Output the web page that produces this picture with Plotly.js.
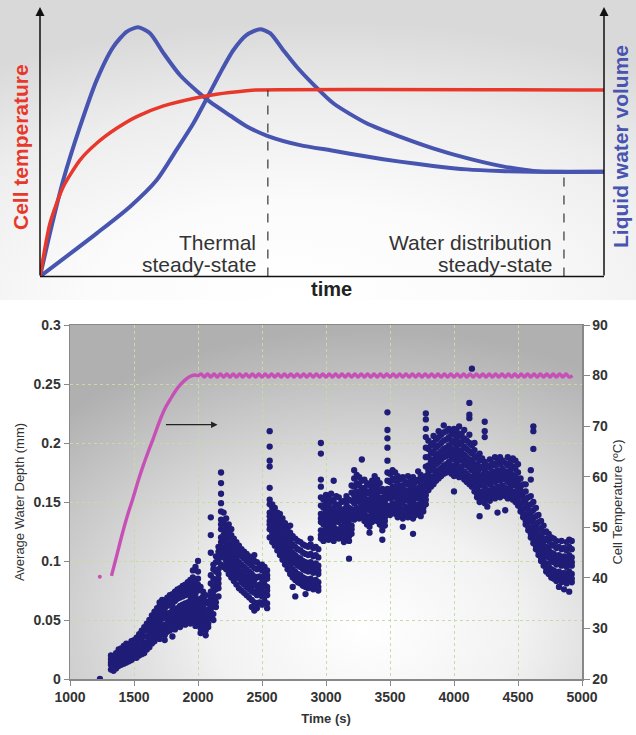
<!DOCTYPE html>
<html><head><meta charset="utf-8">
<script src="https://cdn.plot.ly/plotly-3.0.1.min.js"></script>
<style>html,body{margin:0;padding:0;background:#fff}#chart{width:636px;height:735px}</style>
</head><body><div id="chart"></div>
<script>
// ---------- Top schematic (arbitrary units 0-100) ----------
const schemTempU = [0,1.77,4.13,7.09,10.05,13.6,17.15,21.9,27.8,31.3,36.6,38.4,100];
const schemTempV = [0,19.96,33.7,43.7,50.0,55.6,60.0,64.0,67.1,68.4,69.7,70.0,70.0];
const schemWater1U = [0,1.77,4.13,7.09,10.05,13.0,15.4,17.4,19.5,21.9,24.8,27.8,30.1,33.7,36.6,40.4,46.1,52.0,57.9,63.8,69.7,75.7,81.6,87.4,100];
const schemWater1V = [0,16.3,36.2,56.2,73.7,86.2,91.9,93.5,91.3,83.8,75.6,69.6,65.6,60.4,56.4,52.7,49.3,47.2,45.0,43.1,41.5,40.2,39.6,39.3,39.3];
const schemWater2U = [0,10.05,15.96,20.7,24.2,27.2,29.6,31.9,34.3,36.6,39.0,40.8,43.1,45.5,48.5,52.0,57.9,63.8,69.7,75.7,81.6,87.5,90.4,100];
const schemWater2V = [0,16.2,26.2,36.2,47.5,57.5,66.9,76.2,85.0,90.6,92.8,91.3,85.0,78.7,72.0,65.0,57.5,52.5,48.1,44.4,41.5,39.6,39.3,39.3];
const steadyTimesU = [40.4, 92.9];
const steadyLevelsV = [70.0, 39.3];
const steadyLabelLine1 = ["Thermal", "Water distribution"];
const steadyLabelLine2 = ["steady-state", "steady-state"];

// ---------- Bottom chart ----------
const xTicks = [1000,1500,2000,2500,3000,3500,4000,4500,5000];
const depthTicks = [0,0.05,0.1,0.15,0.2,0.25,0.3];
const tempTicks = [20,30,40,50,60,70,80,90];

// water depth samples: [time (s), depths in micrometres ...]
const depthRows = [
[1234,0],
[1320,8,12,17,20,14],[1340,10,15,11,19,7],[1360,13,9,18,22,16],[1380,11,20,14,25,17],[1400,15,12,21,26,19],
[1420,13,18,24,16,28],[1440,17,22,14,27,30,20],[1460,15,25,19,29,23],[1480,19,16,24,32,28,21],[1500,18,23,27,33,21,30],
[1520,21,26,18,31,35,24],[1540,20,29,24,34,38,27],[1560,23,27,32,21,37,41],[1580,22,30,26,36,41,44],[1600,25,31,36,28,42,47],
[1620,27,34,39,30,45,50,43],[1640,30,36,42,33,48,54,51],[1660,32,39,45,36,51,57,48],[1680,35,41,47,38,54,60,52],[1700,34,43,49,40,56,62,65,52],
[1720,38,45,51,42,58,63,67,55],[1740,37,46,53,43,60,66,33,57],[1760,40,47,55,44,62,69,51,65],[1780,41,49,56,46,63,71,53,67],[1800,43,50,58,47,64,72,36,61],
[1820,42,51,59,48,66,74,55,69],[1840,45,53,60,50,68,76,57,72],[1860,44,52,62,49,69,77,58,73],[1880,47,55,63,51,70,79,60,75],[1900,46,54,64,50,71,80,59,76],
[1920,48,57,65,53,73,82,61,78],[1940,47,56,66,52,74,84,62,79,70],[1960,49,58,67,54,75,86,63,81,92],[1980,45,55,64,50,72,83,60,78,95,68],[2000,47,57,66,52,75,85,61,80,91,100],
[2020,43,51,60,47,68,78,56,64,39],[2040,45,53,62,49,70,74,57],[2060,41,49,58,45,66,71,54,37],[2080,44,51,59,47,64,55],
[2100,52,59,67,74,81,88,63,107,122,137,70],[2120,55,62,70,78,85,93,97,66,50,74],[2140,61,69,76,84,91,99,104,65,80],[2160,70,77,85,93,100,108,112,81,89],
[2180,97,104,112,120,127,135,142,149,157,166,175,108,116,131],[2200,95,103,111,118,126,134,141,107,122],[2220,93,100,108,115,123,130,136,97,112],
[2240,89,97,104,112,119,126,131,100,108],[2260,86,93,101,108,115,122,127,97],[2280,83,90,98,105,112,119,94,101],[2300,80,87,95,102,109,116,91],
[2320,77,85,92,99,106,113,88,96],[2340,75,82,90,97,104,110,86],[2360,73,80,88,95,102,108,84,91],[2380,71,78,86,93,100,106,82],
[2400,69,76,84,91,98,104,80,87],[2420,67,74,82,89,96,102,61,78],[2440,65,73,80,87,94,100,105,58,84],[2460,64,71,79,86,93,99,60,75],
[2480,65,72,80,87,94,97,77],[2500,63,70,78,85,92,97,74,81],[2520,66,73,80,88,95,70,84],[2540,64,71,78,85,92,60,75,88],
[2560,120,127,134,141,148,152,162,180,185,197,210,131,138],[2580,116,124,131,138,145,148,120,127],[2600,113,120,127,134,141,145,117,130],
[2620,109,116,123,130,137,141,113,126],[2640,105,112,119,126,133,140,108,122],[2660,101,108,115,122,129,136,104,118],[2680,97,104,111,118,125,132,100,114],
[2700,93,100,107,114,121,128,96,110],[2720,89,96,103,110,117,124,130,92,106],[2740,86,93,100,107,114,121,78,89,103],[2760,84,91,98,105,112,119,70,87,101],
[2780,82,89,96,103,110,117,85,99],[2800,81,88,95,102,109,116,84,98],[2820,79,86,93,100,107,114,82,96],[2840,78,85,92,99,106,113,72,81,95],
[2860,77,84,91,98,105,112,80,94],[2880,78,85,92,99,106,114,119,81,95],[2900,76,83,90,97,104,111,79,93],[2920,77,84,91,98,105,112,80,94],
[2940,75,82,89,96,103,110,78,92],[2960,119,126,133,140,147,154,163,169,191,200,122,136],[2980,117,124,131,138,145,152,120,134],
[3000,121,128,135,142,149,156,124,139],[3020,118,125,132,139,146,153,121,136],[3040,122,129,136,143,150,157,126,140],[3060,117,124,131,138,145,152,168,120,134],
[3080,120,127,134,141,148,155,123,137],[3100,119,126,133,140,147,154,122,143],[3120,122,129,136,143,150,125,139],[3140,116,123,130,137,144,151,119,134],
[3160,120,127,134,141,148,155,124,131],[3180,117,124,131,138,145,152,102,121,135],[3200,123,130,137,144,151,158,164,127,141],[3220,135,142,149,156,163,170,177,138,152],
[3240,138,145,152,159,166,173,141,156],[3260,136,143,150,157,164,171,140,154],[3280,140,147,154,161,168,186,143,157],[3300,134,141,148,155,162,169,137,151],
[3320,131,138,145,152,159,166,135,149],[3340,129,136,143,150,157,164,124,133,147],[3360,133,140,147,154,161,168,136,150],[3380,137,144,151,158,165,172,140,154],
[3400,134,141,148,155,162,169,138,152],[3420,131,138,145,152,159,166,134,148],[3440,126,133,140,147,154,161,118,129,143],[3460,130,137,144,151,158,134,148],
[3480,140,147,154,161,168,175,185,196,204,211,226,144,158],[3500,139,146,153,160,167,174,142,156],[3520,142,149,156,163,170,177,145,159],
[3540,140,147,154,161,168,175,143,157],[3560,137,144,151,158,165,172,141,155],[3580,141,148,155,162,169,144,158],[3600,136,143,150,157,164,171,129,139,153],
[3620,139,146,153,160,167,142,156],[3640,137,144,151,158,165,172,140,154],[3660,140,147,154,161,168,143,157],[3680,136,143,150,157,164,171,123,139,153],
[3700,139,146,153,160,167,142,156],[3720,141,148,155,162,169,176,144,158],[3740,138,145,152,159,166,173,141,155],[3760,142,149,156,163,170,145,159],
[3780,148,156,164,172,180,188,196,205,212,220,225,152,168],[3800,160,167,174,181,188,195,202,163,177],[3820,163,170,177,184,191,198,166,180],
[3840,165,172,179,186,193,200,206,168,182],[3860,168,175,182,189,196,203,171,185],[3880,170,177,184,191,198,205,210,173,187],[3900,172,179,186,193,200,207,175,189],
[3920,174,181,188,195,202,209,215,177,191],[3940,175,182,189,196,203,210,178,192],[3960,177,184,191,198,205,212,180,194],[3980,174,181,188,195,202,209,177,191],
[4000,172,179,186,193,200,207,212,159,175,189],[4020,175,182,189,196,203,210,178,192],[4040,171,178,185,192,199,206,214,174,188],[4060,173,180,187,194,201,208,176,190],
[4080,169,176,183,190,197,204,211,172,186],[4100,167,174,181,188,195,202,170,184],[4120,165,172,179,186,193,200,207,221,224,234,168,182],
[4140,163,170,177,184,191,198,263,166,180],[4160,159,166,173,180,187,194,200,162,176],[4180,154,161,168,175,182,189,157,171],
[4200,150,157,164,171,178,185,191,138,153,167],[4220,152,159,166,173,180,187,155,169],[4240,149,156,163,170,177,184,205,210,218,152,166],
[4260,153,160,167,174,181,146,156,170],[4280,151,158,165,172,179,186,154,168],[4300,155,162,169,176,183,158,172],[4320,153,160,167,174,181,188,156,170],
[4340,156,163,170,177,184,141,159,173],[4360,154,161,168,175,182,188,157,171],[4380,157,164,171,178,185,160,174],[4400,155,162,169,176,183,143,158,172],
[4420,153,160,167,174,181,188,156,170],[4440,156,163,170,177,184,159,173],[4460,152,159,166,173,180,187,155,169],[4480,150,157,164,171,178,185,153,167],
[4500,147,154,161,168,175,182,150,164],[4520,142,149,156,163,170,145,159],[4540,137,144,151,158,165,140,154],[4560,131,138,145,152,159,165,134,148],
[4580,126,133,140,147,154,129,143],[4600,120,127,134,141,148,155,169,177,123,137],[4620,115,122,129,136,143,150,195,210,214,118,132],
[4640,110,117,124,131,138,145,113,127],[4660,105,112,119,126,133,139,108,122],[4680,100,107,114,121,128,134,103,117],[4700,96,103,110,117,124,130,99,113],
[4720,91,98,105,112,119,125,94,108],[4740,89,96,103,110,117,123,92,106],[4760,86,93,100,107,114,120,89,103],[4780,85,92,99,106,113,119,88,102],
[4800,83,90,97,104,111,117,86,100],[4820,84,91,98,105,112,78,87,101],[4840,82,89,96,103,110,117,85,99],[4860,83,90,97,104,111,76,86,100],
[4880,81,88,95,102,109,116,84,98],[4900,84,91,98,105,112,118,74,87,101],[4920,82,89,96,103,110,117,85,99]
];

// cell temperature
const tempStartTime = [1233];
const tempStartValue = [40.2];
const tempRiseTime = [1324,1363,1417,1457,1495,1534,1573,1612,1651,1703,1742,1781,1820,1859,1898,1937,1975];
const tempRiseValue = [40.4,44.2,49.5,53.0,56.0,59.3,62.3,65.0,67.6,71.2,73.5,75.2,76.8,78.1,79.1,79.8,80.1];
const plateauTimeStart = 2000, plateauTimeStep = 25;
const tempPlateauValue = [
80.0,80.3,79.7,80.3,79.7,80.3,79.7,80.3,79.7,80.3,79.7,80.3,79.7,80.3,79.7,80.3,79.7,80.3,79.7,80.3,
79.7,80.3,79.7,80.3,79.7,80.3,79.7,80.3,79.7,80.3,79.7,80.3,79.7,80.3,79.7,80.3,79.7,80.3,79.7,80.3,
79.7,80.3,79.7,80.3,79.7,80.3,79.7,80.3,79.7,80.3,79.7,80.3,79.7,80.3,79.7,80.3,79.7,80.3,79.7,80.3,
79.7,80.3,79.7,80.3,79.7,80.3,79.7,80.3,79.7,80.3,79.7,80.3,79.7,80.3,79.7,80.3,79.7,80.3,79.7,80.3,
79.7,80.3,79.7,80.3,79.7,80.3,79.7,80.3,79.7,80.3,79.7,80.3,79.7,80.3,79.7,80.3,79.7,80.3,79.7,80.3,
79.7,80.3,79.7,80.3,79.7,80.3,79.7,80.3,79.7,80.3,79.7,80.3,79.7,80.3,79.7,80.3,79.7,80.0];
const arrowFrom = [1738, 0.2155], arrowTo = [2153, 0.2155];

// ---------- build ----------
const depthX = [], depthY = [];
depthRows.forEach(r => { for (let i = 1; i < r.length; i++) { depthX.push(r[0]); depthY.push(r[i] / 1000); } });
const plateauTime = tempPlateauValue.map((_, i) => plateauTimeStart + i * plateauTimeStep);

const FONT = 'Liberation Sans, Arial, sans-serif';
const RED = '#e8382c', BLUE = '#4754b0', PINK = '#c650b6', NAVY = '#1f1d77';

const topBg = '<svg xmlns="http://www.w3.org/2000/svg" width="636" height="300" preserveAspectRatio="none"><defs><radialGradient id="g" cx="0.5" cy="1.02" r="0.95" fx="0.45" fy="1.0"><stop offset="0" stop-color="#ffffff"/><stop offset="0.35" stop-color="#fbfbfb"/><stop offset="0.7" stop-color="#ededed"/><stop offset="1" stop-color="#d9d9d9"/></radialGradient></defs><rect width="636" height="300" fill="url(#g)"/></svg>';
const botBg = '<svg xmlns="http://www.w3.org/2000/svg" width="512" height="354" preserveAspectRatio="none"><defs><radialGradient id="h" cx="0.58" cy="0.86" r="0.85"><stop offset="0" stop-color="#ffffff"/><stop offset="0.35" stop-color="#f2f2f2"/><stop offset="1" stop-color="#b0b0b0"/></radialGradient></defs><rect width="512" height="354" fill="url(#h)"/></svg>';
const uri = s => 'data:image/svg+xml;utf8,' + encodeURIComponent(s);

const traces = [
  {x: schemWater1U, y: schemWater1V, xaxis:'x3', yaxis:'y3', mode:'lines', line:{color:BLUE, width:4, shape:'spline', smoothing:0.7}, hoverinfo:'skip'},
  {x: schemWater2U, y: schemWater2V, xaxis:'x3', yaxis:'y3', mode:'lines', line:{color:BLUE, width:4, shape:'spline', smoothing:0.7}, hoverinfo:'skip'},
  {x: schemTempU, y: schemTempV, xaxis:'x3', yaxis:'y3', mode:'lines', line:{color:RED, width:3.5, shape:'spline', smoothing:0.6}, hoverinfo:'skip'},
  {x: [steadyTimesU[0], steadyTimesU[0], null, steadyTimesU[1], steadyTimesU[1]],
   y: [0, steadyLevelsV[0], null, 0, steadyLevelsV[1]], xaxis:'x3', yaxis:'y3', mode:'lines',
   line:{color:'#333', width:1.2, dash:'dash'}, hoverinfo:'skip'},
  {x: depthX, y: depthY, xaxis:'x', yaxis:'y', mode:'markers', marker:{color:NAVY, size:6.3}, hoverinfo:'skip'},
  {x: tempStartTime, y: tempStartValue, xaxis:'x', yaxis:'y2', mode:'markers', marker:{color:PINK, size:4}, hoverinfo:'skip'},
  {x: tempRiseTime.concat(plateauTime), y: tempRiseValue.concat(tempPlateauValue), xaxis:'x', yaxis:'y2', mode:'lines',
   line:{color:PINK, width:3.4, shape:'spline', smoothing:1}, hoverinfo:'skip'}
];

const tickFont = {family: FONT, size: 14, color: '#333', weight: 'bold'};
const titleFont = {family: FONT, size: 13, color: '#333'};
const annFont = {family: FONT, size: 21, color: '#333'};
const layout = {
  width: 636, height: 735, margin:{l:0, r:0, t:0, b:0},
  paper_bgcolor:'#ffffff', plot_bgcolor:'rgba(0,0,0,0)', showlegend:false,
  font:{family: FONT},
  xaxis: {domain:[70/636, 582/636], range:[1000,5000], anchor:'y', tickvals:xTicks, ticks:'outside', ticklen:5,
    tickcolor:'#888', showline:true, linecolor:'#888', linewidth:1.5, mirror:true, showgrid:true, gridcolor:'#c7dca2', griddash:'dot', gridwidth:1,
    zeroline:false, tickfont:tickFont, title:{text:'<b>Time (s)</b>', font:titleFont, standoff:9}},
  yaxis: {domain:[1-679/735, 1-325/735], range:[0,0.3], anchor:'x', tickvals:depthTicks, ticktext:['0','0.05','0.1','0.15','0.2','0.25','0.3'],
    ticks:'outside', ticklen:5, tickcolor:'#888', showline:true, linecolor:'#888', linewidth:1.5, showgrid:true, gridcolor:'#c7dca2', griddash:'dot',
    zeroline:false, tickfont:tickFont, title:{text:'Average Water Depth (mm)', font:titleFont, standoff:6}},
  yaxis2: {overlaying:'y', side:'right', anchor:'x', range:[20,90], tickvals:tempTicks, ticks:'outside', ticklen:6, tickcolor:'#888',
    showline:true, linecolor:'#888', linewidth:1.5, showgrid:false, zeroline:false, tickfont:tickFont,
    title:{text:'Cell Temperature (ºC)', font:titleFont, standoff:6}},
  xaxis3: {domain:[40/636, 604/636], range:[0,100], anchor:'y3', visible:false},
  yaxis3: {domain:[1-276.5/735, 1-10/735], range:[0,100], anchor:'x3', visible:false},
  images: [
    {source: uri(topBg), xref:'paper', yref:'paper', x:0, y:1, sizex:1, sizey:300/735, xanchor:'left', yanchor:'top', sizing:'stretch', layer:'below'},
    {source: uri(botBg), xref:'paper', yref:'paper', x:70/636, y:1-325/735, sizex:512/636, sizey:354/735, xanchor:'left', yanchor:'top', sizing:'stretch', layer:'below'}
  ],
  shapes: [
    {type:'line', xref:'paper', yref:'paper', x0:40/636, x1:604/636, y0:1-276.5/735, y1:1-276.5/735, line:{color:'#111', width:1.5}}
  ],
  annotations: [
    {xref:'paper', yref:'paper', x:40/636, y:1-7/735, ax:0, ay:270, text:'', showarrow:true, arrowhead:2, arrowsize:1.2, arrowwidth:1.5, arrowcolor:'#111'},
    {xref:'paper', yref:'paper', x:604/636, y:1-7/735, ax:0, ay:270, text:'', showarrow:true, arrowhead:2, arrowsize:1.2, arrowwidth:1.5, arrowcolor:'#111'},
    {xref:'x3', yref:'paper', x:steadyTimesU[0]-1.7, y:1-242/735, xanchor:'right', yanchor:'middle', showarrow:false, text:steadyLabelLine1[0], font:annFont},
    {xref:'x3', yref:'paper', x:steadyTimesU[0]-1.7, y:1-264/735, xanchor:'right', yanchor:'middle', showarrow:false, text:steadyLabelLine2[0], font:annFont},
    {xref:'x3', yref:'paper', x:steadyTimesU[1]-1.7, y:1-242/735, xanchor:'right', yanchor:'middle', showarrow:false, text:steadyLabelLine1[1], font:annFont},
    {xref:'x3', yref:'paper', x:steadyTimesU[1]-1.7, y:1-264/735, xanchor:'right', yanchor:'middle', showarrow:false, text:steadyLabelLine2[1], font:annFont},
    {xref:'paper', yref:'paper', x:331/636, y:1-289/735, xanchor:'center', yanchor:'middle', showarrow:false, text:'<b>time</b>', font:{family:FONT, size:20, color:'#222'}},
    {xref:'paper', yref:'paper', x:21/636, y:1-147/735, xanchor:'center', yanchor:'middle', showarrow:false, textangle:-90, text:'<b>Cell temperature</b>', font:{family:FONT, size:21, color:RED}},
    {xref:'paper', yref:'paper', x:621/636, y:1-147/735, xanchor:'center', yanchor:'middle', showarrow:false, textangle:-90, text:'<b>Liquid water volume</b>', font:{family:FONT, size:21, color:BLUE}},
    {xref:'x', yref:'y', axref:'x', ayref:'y', x:arrowTo[0], y:arrowTo[1], ax:arrowFrom[0], ay:arrowFrom[1], text:'', showarrow:true,
     arrowhead:2, arrowsize:1, arrowwidth:1.3, arrowcolor:'#222'}
  ]
};
Plotly.newPlot('chart', traces, layout, {staticPlot:true, displayModeBar:false});
</script></body></html>
